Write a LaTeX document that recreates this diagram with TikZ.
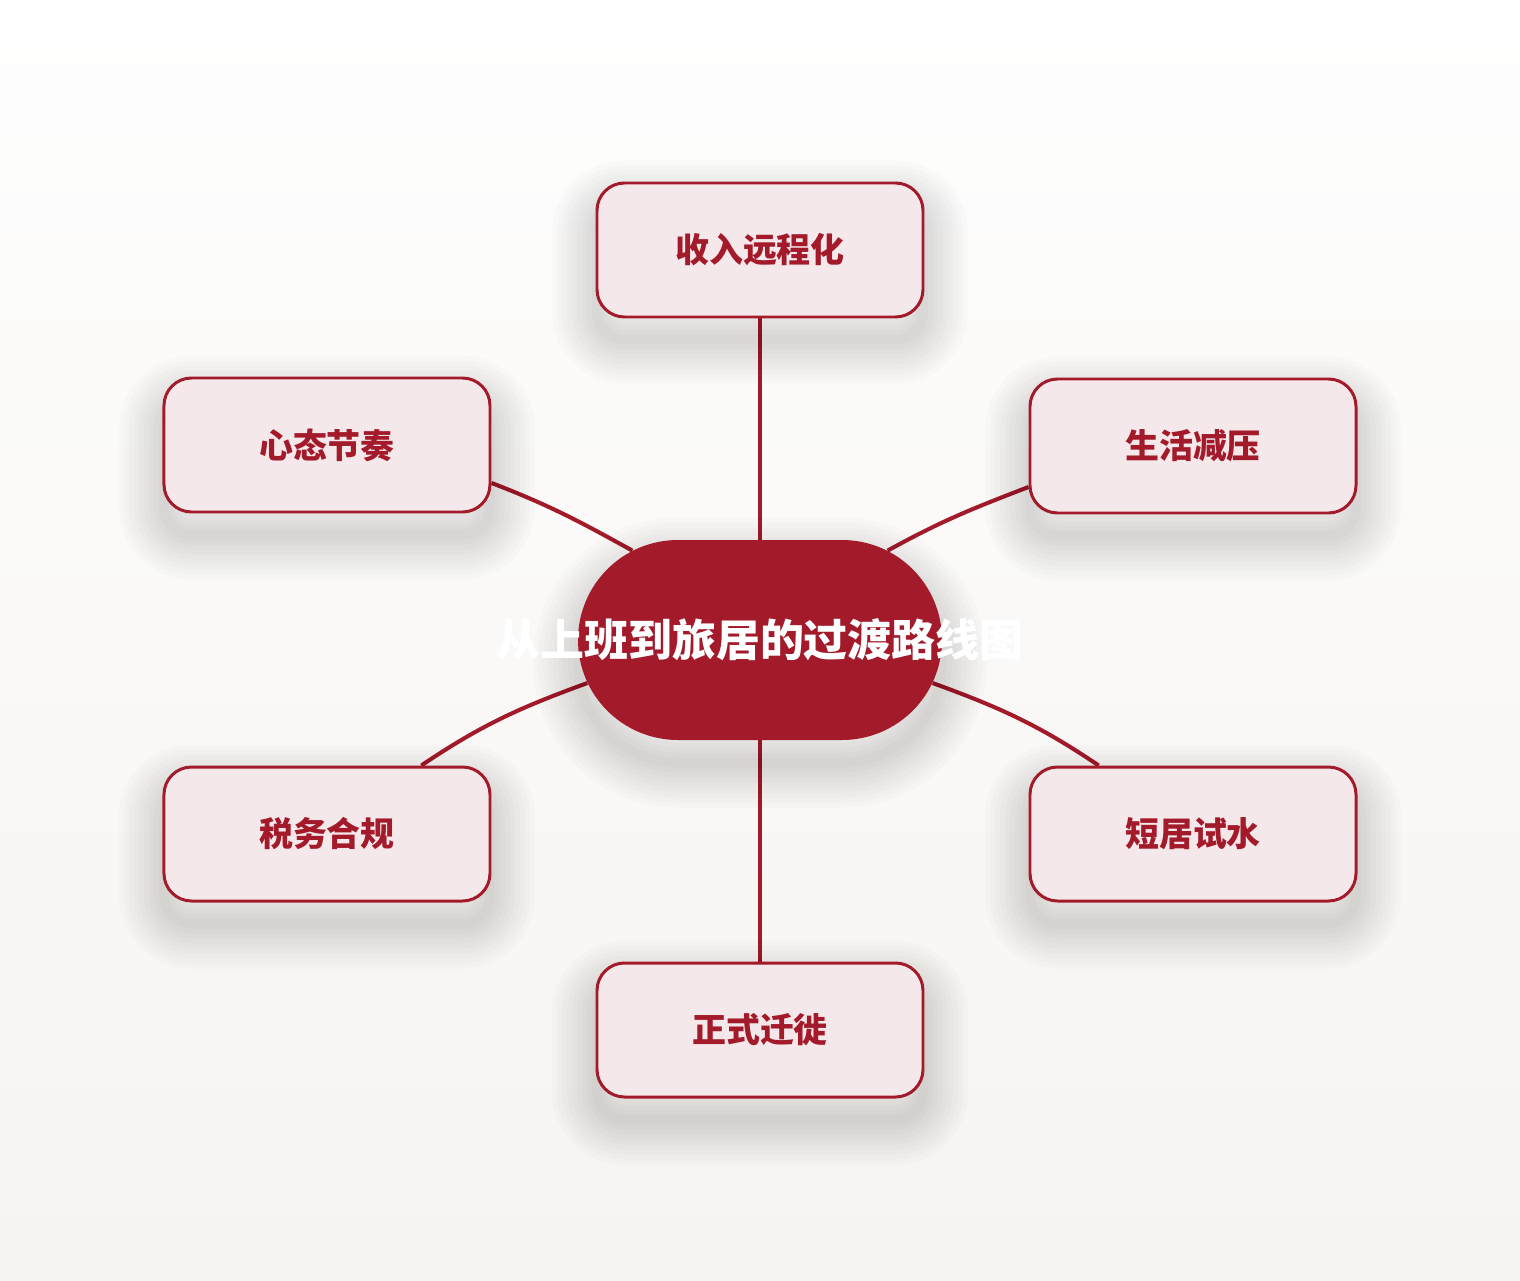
\documentclass[tikz,border=0pt]{standalone}
\usepackage{fontspec}
\newfontfamily\cjk{Noto Sans CJK SC}
\usetikzlibrary{shapes.misc,shadows}

\definecolor{routered}{HTML}{A31A2A}
\definecolor{stagepink}{HTML}{F5E8EB}
\definecolor{bgtop}{HTML}{FEFEFE}
\definecolor{bgbottom}{HTML}{F6F4F0}

\pgfdeclarelayer{bg}
\pgfsetlayers{bg,main}

\begin{document}
\begin{tikzpicture}[
    shadowring/.style={general shadow={draw=black, line width=#1, opacity=0.014,
      shadow yshift=-0.45cm}},
    softshadow/.style={shadowring/.list={1.8cm,1.6cm,1.4cm,1.2cm,1cm,0.8cm,0.6cm,0.4cm,0.2cm}},
    stage/.style={rectangle, rounded corners=0.55cm, draw=routered, line width=1.7pt,
      fill=stagepink, minimum width=6.52cm, minimum height=2.68cm, text=routered,
      font=\cjk\bfseries\fontsize{19.3pt}{23pt}\selectfont, softshadow},
    link/.style={draw=routered, line width=2.3pt}
  ]
    \useasboundingbox (-15.2,-12.8) rectangle (15.2,12.8);
    \begin{pgfonlayer}{bg}
      \shade[top color=bgtop, bottom color=bgbottom] (-15.2,-12.8) rectangle (15.2,12.8);
    \end{pgfonlayer}

    % 中心のノード
    \node[rounded rectangle, fill=routered, minimum width=7.28cm, minimum height=4cm,
      inner sep=0pt, text=white, font=\cjk\bfseries\fontsize{25pt}{30pt}\selectfont,
      softshadow] (hub) at (0, 0) {\makebox[0pt]{从上班到旅居的过渡路线图}};

    \node[stage] (income) at (0, 7.8) {收入远程化};
    \node[stage] (mindset) at (-8.66, 3.9) {心态节奏};
    \node[stage] (lifestyle) at (8.66, 3.88) {生活减压};
    \node[stage] (tax) at (-8.66, -3.88) {税务合规};
    \node[stage] (trial) at (8.66, -3.88) {短居试水};
    \node[stage] (move) at (0, -7.8) {正式迁徙};

    \begin{pgfonlayer}{bg}
      \draw[link] (hub.north) -- (income.south);
      \draw[link] (hub.south) -- (move.north);
      \draw[link] (hub.145) to[out=151, in=-21] (mindset.-13);
      \draw[link] (hub.35) to[out=29, in=201] (lifestyle.194);
      \draw[link] (hub.194) to[out=200, in=34] (tax.36);
      \draw[link] (hub.346) to[out=-20, in=146] (trial.144);
    \end{pgfonlayer}

  \end{tikzpicture}
\end{document}
